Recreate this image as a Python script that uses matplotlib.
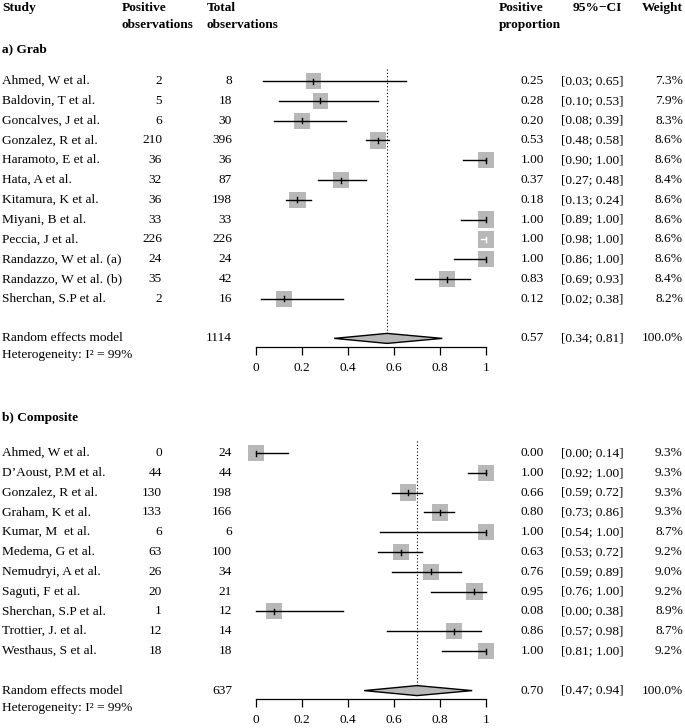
import matplotlib
matplotlib.use("Agg")
import matplotlib.pyplot as plt
from matplotlib.patches import Rectangle, Polygon

plt.rcParams["font.family"] = ["Liberation Serif", "DejaVu Serif"]

# a) Grab samples
grab_studies = ["Ahmed, W et al.", "Baldovin, T et al.", "Goncalves, J et al.",
                "Gonzalez, R et al.", "Haramoto, E et al.", "Hata, A et al.",
                "Kitamura, K et al.", "Miyani, B et al.", "Peccia, J et al.",
                "Randazzo, W et al. (a)", "Randazzo, W et al. (b)", "Sherchan, S.P et al."]
grab_pos = [2, 5, 6, 210, 36, 32, 36, 33, 226, 24, 35, 2]
grab_total = [8, 18, 30, 396, 36, 87, 198, 33, 226, 24, 42, 16]
grab_prop = [0.25, 0.28, 0.20, 0.53, 1.00, 0.37, 0.18, 1.00, 1.00, 1.00, 0.83, 0.12]
grab_lower = [0.03, 0.10, 0.08, 0.48, 0.90, 0.27, 0.13, 0.89, 0.98, 0.86, 0.69, 0.02]
grab_upper = [0.65, 0.53, 0.39, 0.58, 1.00, 0.48, 0.24, 1.00, 1.00, 1.00, 0.93, 0.38]
grab_weight = [7.3, 7.9, 8.3, 8.6, 8.6, 8.4, 8.6, 8.6, 8.6, 8.6, 8.4, 8.2]
grab_pooled = [0.57, 0.34, 0.81]
grab_pooled_total = 1114

# b) Composite samples
comp_studies = ["Ahmed, W et al.", "D\u2019Aoust, P.M et al.", "Gonzalez, R et al.",
                "Graham, K et al.", "Kumar, M  et al.", "Medema, G et al.",
                "Nemudryi, A et al.", "Saguti, F et al.", "Sherchan, S.P et al.",
                "Trottier, J. et al.", "Westhaus, S et al."]
comp_pos = [0, 44, 130, 133, 6, 63, 26, 20, 1, 12, 18]
comp_total = [24, 44, 198, 166, 6, 100, 34, 21, 12, 14, 18]
comp_prop = [0.00, 1.00, 0.66, 0.80, 1.00, 0.63, 0.76, 0.95, 0.08, 0.86, 1.00]
comp_lower = [0.00, 0.92, 0.59, 0.73, 0.54, 0.53, 0.59, 0.76, 0.00, 0.57, 0.81]
comp_upper = [0.14, 1.00, 0.72, 0.86, 1.00, 0.72, 0.89, 1.00, 0.38, 0.98, 1.00]
comp_weight = [9.3, 9.3, 9.3, 9.3, 8.7, 9.2, 9.0, 9.2, 8.9, 8.7, 9.2]
comp_pooled = [0.70, 0.47, 0.94]
comp_pooled_total = 637

heterogeneity = "Heterogeneity: I\u00b2 = 99%"
tick_values = [0, 0.2, 0.4, 0.6, 0.8, 1]
tick_labels = ["0", "0.2", "0.4", "0.6", "0.8", "1"]

W, H = 685, 728
X0, X1 = 256, 486          # pixel x of proportion 0 and 1
ROW = 19.8
FS = 9.6
BOX = "#B8B8B8"

fig = plt.figure(figsize=(W / 100, H / 100), dpi=100)
page = fig.add_axes([0, 0, 1, 1])
page.set_xlim(0, W)
page.set_ylim(H, 0)
page.axis("off")


def txt(x, y, s, ha="left", bold=False):
    page.text(x, y, s, ha=ha, va="center", fontsize=FS,
              fontweight="bold" if bold else "normal")


# column headers
txt(2, 8, "Study", bold=True)
txt(122, 8, "Positive", bold=True)
txt(122, 25, "observations", bold=True)
txt(207, 8, "Total", bold=True)
txt(207, 25, "observations", bold=True)
txt(499, 8, "Positive", bold=True)
txt(499, 25, "proportion", bold=True)
txt(597, 8, "95%\u2212CI", ha="center", bold=True)
txt(683, 8, "Weight", ha="right", bold=True)


def panel(title, title_y, y_first, studies, pos, total, prop, lower, upper,
          weight, pooled, pooled_total):
    n = len(studies)
    ys = [y_first + i * ROW for i in range(n)]
    y_re = y_first + (n + 1) * ROW
    y_axis = y_re + 8.5

    txt(2, title_y, title, bold=True)
    wmax = max(weight)
    for y, name, a, t, p, lo, hi, w in zip(ys, studies, pos, total, prop, lower, upper, weight):
        txt(2, y, name)
        txt(162, y, str(a), ha="right")
        txt(232, y, str(t), ha="right")
        txt(532, y, f"{p:.2f}", ha="center")
        txt(592, y, f"[{lo:.2f}; {hi:.2f}]", ha="center")
        txt(683, y, f"{w:.1f}%", ha="right")
    txt(2, y_re, "Random effects model")
    txt(232, y_re, str(pooled_total), ha="right")
    txt(532, y_re, f"{pooled[0]:.2f}", ha="center")
    txt(592, y_re, f"[{pooled[1]:.2f}; {pooled[2]:.2f}]", ha="center")
    txt(683, y_re, "100.0%", ha="right")
    txt(2, y_re + 17, heterogeneity)

    # forest area: x in proportion units, y in page pixels
    y_top = y_first - ROW * 0.6
    ax = fig.add_axes([X0 / W, 1 - y_axis / H, (X1 - X0) / W, (y_axis - y_top) / H])
    ax.set_xlim(0, 1)
    ax.set_ylim(y_axis, y_top)
    ax.patch.set_visible(False)
    for side in ("top", "left", "right"):
        ax.spines[side].set_visible(False)
    ax.spines["bottom"].set_linewidth(0.9)
    ax.set_yticks([])
    ax.set_xticks(tick_values)
    ax.set_xticklabels(tick_labels, fontsize=FS)
    ax.tick_params(axis="x", direction="out", length=6, width=0.9, pad=5)

    px = X1 - X0
    for y, p, lo, hi, w in zip(ys, prop, lower, upper, weight):
        s = 16.3 * (w / wmax) ** 0.5
        ax.add_patch(Rectangle((p - s / 2 / px, y - s / 2), s / px, s,
                               facecolor=BOX, edgecolor="none", clip_on=False, zorder=2))
        inside = (hi - lo) * px < s
        col = "white" if inside else "black"
        ax.plot([lo, hi], [y, y], color=col, lw=1.0, clip_on=False, zorder=3)
        ax.plot([p, p], [y - 2.5, y + 2.5], color=col, lw=1.0, clip_on=False, zorder=3)

    est, lo, hi = pooled
    ax.plot([est, est], [y_top, y_re], color="black", lw=0.8, ls=(0, (1, 2)), zorder=1)
    ax.add_patch(Polygon([(lo, y_re), (est, y_re - 5), (hi, y_re), (est, y_re + 5)],
                         closed=True, facecolor=BOX, edgecolor="black", lw=1.0,
                         clip_on=False, zorder=2))


panel("a) Grab", 49, 81, grab_studies, grab_pos, grab_total, grab_prop, grab_lower,
      grab_upper, grab_weight, grab_pooled, grab_pooled_total)
panel("b) Composite", 418, 453, comp_studies, comp_pos, comp_total, comp_prop, comp_lower,
      comp_upper, comp_weight, comp_pooled, comp_pooled_total)

fig.savefig("out.png", dpi=100)
